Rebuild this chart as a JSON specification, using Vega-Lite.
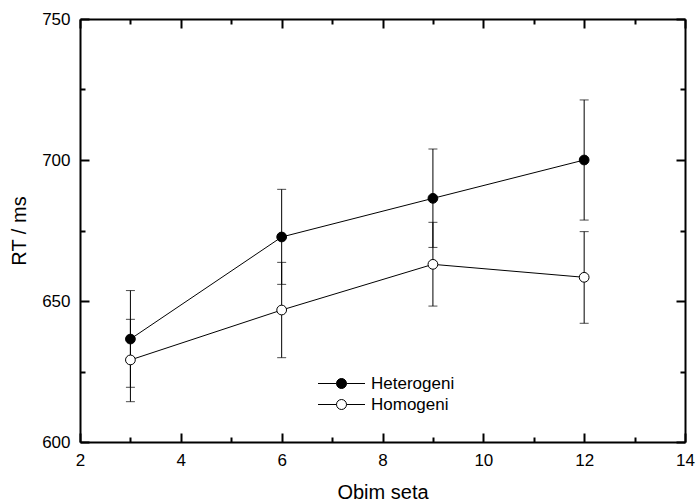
{
  "$schema": "https://vega.github.io/schema/vega-lite/v6.json",
  "width": 605,
  "height": 423,
  "autosize": "none",
  "padding": {"left": 80, "top": 19, "right": 12, "bottom": 60},
  "background": "white",
  "config": {
    "view": {"stroke": null},
    "font": "Liberation Sans",
    "axis": {
      "grid": false,
      "domainColor": "black",
      "domainWidth": 2,
      "tickColor": "black",
      "tickWidth": 2,
      "labelFont": "Liberation Sans",
      "labelFontSize": 17,
      "labelColor": "black",
      "titleFont": "Liberation Sans",
      "titleFontSize": 20,
      "titleFontWeight": "normal",
      "titleColor": "black"
    }
  },
  "data": {
    "values": [
      {"setsize": 3, "cond": "Heterogeni", "rt": 636.5, "lo": 619.4, "hi": 653.7},
      {"setsize": 6, "cond": "Heterogeni", "rt": 672.7, "lo": 655.9, "hi": 689.6},
      {"setsize": 9, "cond": "Heterogeni", "rt": 686.4, "lo": 669.0, "hi": 703.9},
      {"setsize": 12, "cond": "Heterogeni", "rt": 700.0, "lo": 678.7, "hi": 721.3},
      {"setsize": 3, "cond": "Homogeni", "rt": 629.1, "lo": 614.3, "hi": 643.5},
      {"setsize": 6, "cond": "Homogeni", "rt": 646.8, "lo": 629.9, "hi": 663.7},
      {"setsize": 9, "cond": "Homogeni", "rt": 663.0, "lo": 648.2, "hi": 677.9},
      {"setsize": 12, "cond": "Homogeni", "rt": 658.4, "lo": 642.1, "hi": 674.6}
    ]
  },
  "resolve": {"axis": {"x": "independent", "y": "independent"}},
  "layer": [
    {
      "mark": {"type": "rule", "color": "black", "strokeWidth": 1},
      "encoding": {
        "x": {
          "field": "setsize", "type": "quantitative",
          "scale": {"domain": [2, 14], "nice": false, "zero": false},
          "axis": {
            "orient": "bottom",
            "title": "Obim seta",
            "titlePadding": 10,
            "values": [2, 3, 4, 5, 6, 7, 8, 9, 10, 11, 12, 13, 14],
            "labelExpr": "datum.value % 2 === 0 ? datum.label : ''",
            "tickSize": {"condition": {"test": "datum.value % 2 === 1", "value": -5}, "value": -9},
            "labelPadding": 19,
            "labelFlush": false,
            "labelOverlap": false
          }
        },
        "y": {
          "field": "lo", "type": "quantitative",
          "scale": {"domain": [600, 750], "nice": false, "zero": false},
          "axis": {
            "orient": "left",
            "title": "RT / ms",
            "titlePadding": 12,
            "values": [600, 625, 650, 675, 700, 725, 750],
            "labelExpr": "datum.value % 50 === 0 ? datum.label : ''",
            "tickSize": {"condition": {"test": "datum.value % 50 !== 0", "value": -5}, "value": -9},
            "labelPadding": 19,
            "labelFlush": false,
            "labelOverlap": false
          }
        },
        "y2": {"field": "hi"}
      }
    },
    {
      "mark": {"type": "tick", "orient": "horizontal", "color": "black", "size": 9, "thickness": 1},
      "encoding": {
        "x": {"field": "setsize", "type": "quantitative", "axis": null},
        "y": {"field": "lo", "type": "quantitative", "axis": null}
      }
    },
    {
      "mark": {"type": "tick", "orient": "horizontal", "color": "black", "size": 9, "thickness": 1},
      "encoding": {
        "x": {"field": "setsize", "type": "quantitative", "axis": null},
        "y": {"field": "hi", "type": "quantitative", "axis": null}
      }
    },
    {
      "mark": {"type": "line", "color": "black", "strokeWidth": 1},
      "encoding": {
        "x": {"field": "setsize", "type": "quantitative", "axis": null},
        "y": {"field": "rt", "type": "quantitative", "axis": null},
        "detail": {"field": "cond", "type": "nominal"}
      }
    },
    {
      "mark": {"type": "point", "shape": "circle", "size": 95, "stroke": "black", "strokeWidth": 1, "opacity": 1, "fillOpacity": 1},
      "encoding": {
        "x": {
          "field": "setsize", "type": "quantitative",
          "axis": {
            "orient": "top",
            "title": null,
            "labels": false,
            "values": [2, 3, 4, 5, 6, 7, 8, 9, 10, 11, 12, 13, 14],
            "tickSize": {"condition": {"test": "datum.value % 2 === 1", "value": -5}, "value": -9}
          }
        },
        "y": {
          "field": "rt", "type": "quantitative",
          "axis": {
            "orient": "right",
            "title": null,
            "labels": false,
            "values": [600, 625, 650, 675, 700, 725, 750],
            "tickSize": {"condition": {"test": "datum.value % 50 !== 0", "value": -5}, "value": -9}
          }
        },
        "fill": {
          "field": "cond", "type": "nominal",
          "scale": {"domain": ["Heterogeni", "Homogeni"], "range": ["black", "white"]},
          "legend": {
            "title": null,
            "orient": "none",
            "legendX": 251,
            "legendY": 354,
            "symbolType": "M-2.35,0H-0.5M0.5,0H2.35M0.5,0A0.5,0.5,0,1,1,-0.5,0A0.5,0.5,0,1,1,0.5,0Z",
            "symbolSize": 400,
            "symbolStrokeColor": "black",
            "symbolStrokeWidth": 1,
            "symbolOpacity": 1,
            "labelFont": "Liberation Sans",
            "labelFontSize": 17,
            "labelColor": "black",
            "labelOffset": 19,
            "rowPadding": 2,
            "padding": 0
          }
        }
      }
    }
  ]
}
